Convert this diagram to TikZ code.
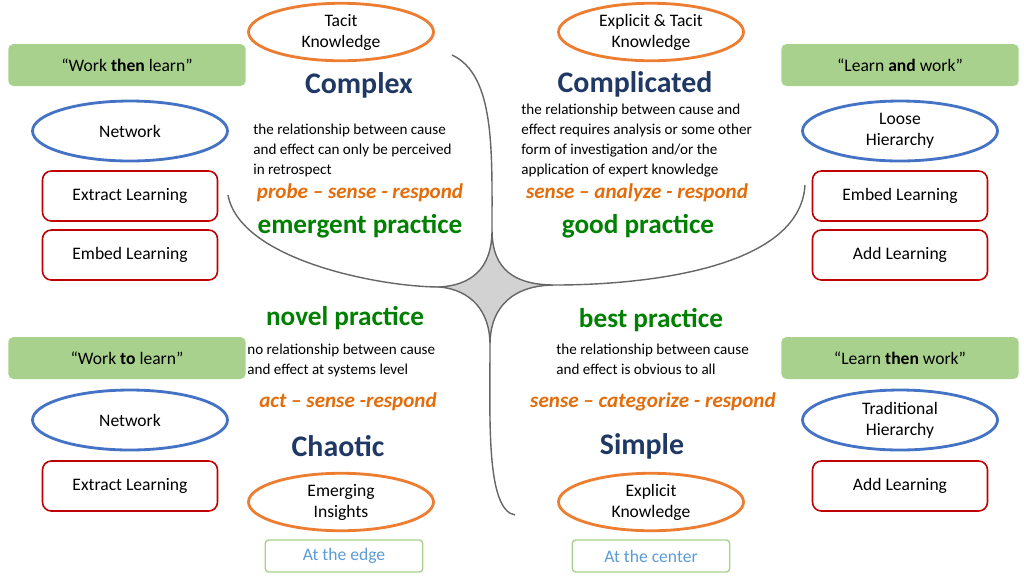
\documentclass[tikz,border=0pt]{standalone}
\usepackage{fontspec}
\setmainfont{Carlito}
\usetikzlibrary{positioning,shapes.geometric}
\definecolor{edgeorange}{RGB}{237,125,49}
\definecolor{netblue}{RGB}{68,114,196}
\definecolor{boxred}{RGB}{192,0,0}
\definecolor{quotegreen}{RGB}{169,209,142}
\definecolor{titleblue}{RGB}{31,56,100}
\definecolor{pracgreen}{RGB}{0,128,0}
\definecolor{methorange}{RGB}{228,108,10}
\definecolor{placeblue}{RGB}{91,155,213}
\begin{document}
\begin{tikzpicture}[x=0.02cm, y=-0.02cm,
    know/.style={ellipse, draw=edgeorange, line width=1.6pt, fill=white, minimum width=3.7cm, minimum height=1.15cm, inner sep=0pt, align=center, font=\fontsize{10}{12}\selectfont},
    org/.style={ellipse, draw=netblue, line width=1.6pt, fill=white, minimum width=3.9cm, minimum height=1.2cm, inner sep=0pt, align=center, font=\fontsize{10}{12}\selectfont},
    learn/.style={rectangle, rounded corners=5pt, draw=boxred, line width=0.9pt, minimum width=3.5cm, minimum height=1cm, font=\fontsize{10}{12}\selectfont},
    motto/.style={rectangle, rounded corners=3pt, fill=quotegreen, minimum width=4.75cm, minimum height=0.84cm, font=\fontsize{10}{12}\selectfont},
    spot/.style={rectangle, rounded corners=2pt, draw=quotegreen, line width=0.8pt, minimum width=3.15cm, minimum height=0.64cm, text=placeblue, font=\fontsize{10}{12}\selectfont},
    regime/.style={text=titleblue, font=\fontsize{17}{20}\selectfont\bfseries},
    desc/.style={align=left, anchor=north west, inner sep=0pt, font=\fontsize{8.6}{11.4}\selectfont},
    method/.style={text=methorange, font=\fontsize{12}{14}\selectfont\bfseries\itshape},
    practice/.style={text=pracgreen, font=\fontsize{15.5}{18}\selectfont\bfseries}]
    \useasboundingbox (0,0) rectangle (1024,583);

    % central star and the four boundaries
    \coordinate (ctop) at (492,230);
    \coordinate (cleft) at (440,287);
    \coordinate (cright) at (555,285);
    \coordinate (cbot) at (490,345);
    \fill[gray!35, draw=gray!80!black, line width=0.8pt] (ctop) .. controls (492,270) and (470,285) .. (cleft)
        .. controls (470,290) and (490,310) .. (cbot)
        .. controls (490,305) and (515,285) .. (cright)
        .. controls (515,285) and (492,270) .. (ctop) -- cycle;
    \draw[gray!80!black, line width=0.8pt] (452,55) .. controls (495,75) and (492,150) .. (ctop);
    \draw[gray!80!black, line width=0.8pt] (228,195) .. controls (240,260) and (380,287) .. (cleft);
    \draw[gray!80!black, line width=0.8pt] (805,185) .. controls (800,270) and (640,285) .. (cright);
    \draw[gray!80!black, line width=0.8pt] (cbot) .. controls (490,420) and (486,510) .. (515,515);

    % knowledge ellipses
    \node[know] (tacit) at (341,32) {Tacit\\Knowledge};
    \node[know] (both) at (651,32) {Explicit \& Tacit\\Knowledge};
    \node[know] (emerging) at (341,502) {Emerging\\Insights};
    \node[know] (explicit) at (651,502) {Explicit\\Knowledge};
    \node[spot] (edge) at (344,556) {At the edge};
    \node[spot] (center) at (651,556) {At the center};

    % left and right columns
    \node[motto] (workthen) at (127,65) {“Work \textbf{then} learn”};
    \node[motto] (learnand) at (900,65) {“Learn \textbf{and} work”};
    \node[motto] (workto) at (127,358) {“Work \textbf{to} learn”};
    \node[motto] (learnthen) at (900,358) {“Learn \textbf{then} work”};

    \node[org] (net1) at (130,131) {Network};
    \node[org] (loose) at (900,131) {Loose\\Hierarchy};
    \node[org] (net2) at (130,420) {Network};
    \node[org] (trad) at (900,420) {Traditional\\Hierarchy};

    \node[learn] (extract1) at (130,196) {Extract Learning};
    \node[learn] (embed1) at (130,255) {Embed Learning};
    \node[learn] (embed2) at (900,196) {Embed Learning};
    \node[learn] (add1) at (900,255) {Add Learning};
    \node[learn] (extract2) at (130,486) {Extract Learning};
    \node[learn] (add2) at (900,486) {Add Learning};

    % domains
    \node[regime] (complex) at (359,85) {Complex};
    \node[regime] (complicated) at (635,84) {Complicated};
    \node[regime] (chaotic) at (338,446) {Chaotic};
    \node[regime] (simple) at (642,446) {Simple};

    \node[desc] (dcomplex) at (253,124) {the relationship between cause\\and effect can only be perceived\\in retrospect};
    \node[desc] (dcomplicated) at (521,104) {the relationship between cause and\\effect requires analysis or some other\\form of investigation and/or the\\application of expert knowledge};
    \node[desc] (dchaotic) at (247,344) {no relationship between cause\\and effect at systems level};
    \node[desc] (dsimple) at (556,344) {the relationship between cause\\and effect is obvious to all};

    \node[method] (mcomplex) at (360,193) {probe – sense - respond};
    \node[method] (mcomplicated) at (637,193) {sense – analyze - respond};
    \node[method] (mchaotic) at (348,402) {act – sense -respond};
    \node[method] (msimple) at (653,402) {sense – categorize - respond};

    \node[practice] (pcomplex) at (360,226) {emergent practice};
    \node[practice] (pcomplicated) at (638,226) {good practice};
    \node[practice] (pchaotic) at (345,318) {novel practice};
    \node[practice] (psimple) at (651,320) {best practice};
\end{tikzpicture}
\end{document}
